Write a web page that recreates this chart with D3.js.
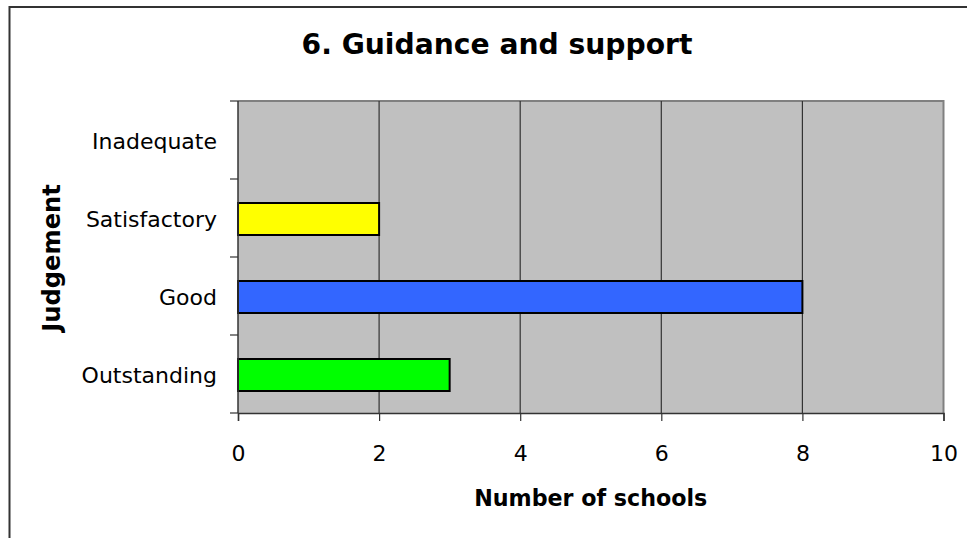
<!DOCTYPE html>
<html><head><meta charset="utf-8">
<script src="https://cdn.jsdelivr.net/npm/d3@7"></script>
<style>body{margin:0;background:#fff}svg{display:block}</style>
</head><body>
<script>
const categories = ["Inadequate","Satisfactory","Good","Outstanding"];
const values = [0, 2, 8, 3];
const barColors = ["#FF0000","#FFFF00","#3366FF","#00FF00"];
const xTicks = [0,2,4,6,8,10];
const title = "6. Guidance and support";
const xTitle = "Number of schools";
const yTitle = "Judgement";

const W = 967, H = 538;
const m = {left: 238, right: 943.5, top: 101, bottom: 413};
const svg = d3.select("body").append("svg").attr("width", W).attr("height", H);
const font = "'DejaVu Sans', Verdana, sans-serif";

// outer frame
svg.append("rect").attr("x", 9.5).attr("y", 7).attr("width", W + 20).attr("height", H + 20)
  .attr("fill", "none").attr("stroke", "#333").attr("stroke-width", 2);

const x = d3.scaleLinear().domain([0, 10]).range([m.left, m.right]);
const yb = d3.scaleBand().domain(categories).range([m.top, m.bottom]);

// plot area
svg.append("rect").attr("x", m.left).attr("y", m.top).attr("width", m.right - m.left).attr("height", m.bottom - m.top)
  .attr("fill", "#C0C0C0");
svg.append("path").attr("d", `M${m.left},${m.top}H${m.right}V${m.bottom}`)
  .attr("fill", "none").attr("stroke", "#808080").attr("stroke-width", 2);

// gridlines
svg.append("g").selectAll("line").data(xTicks.filter(d => d > 0 && d < 10)).join("line")
  .attr("x1", d => x(d)).attr("x2", d => x(d)).attr("y1", m.top).attr("y2", m.bottom)
  .attr("stroke", "#333").attr("stroke-width", 1.2);

// bars
const bh = 32;
svg.append("g").selectAll("rect").data(categories).join("rect")
  .filter((d, i) => values[i] > 0)
  .attr("x", x(0))
  .attr("y", d => yb(d) + yb.bandwidth() / 2 - bh / 2 + 1)
  .attr("width", (d) => x(values[categories.indexOf(d)]) - x(0))
  .attr("height", bh)
  .attr("fill", d => barColors[categories.indexOf(d)])
  .attr("stroke", "#000").attr("stroke-width", 2);

// x axis
const xa = svg.append("g").attr("transform", `translate(0,${m.bottom})`)
  .call(d3.axisBottom(x).tickValues(xTicks).tickSize(8).tickPadding(24.5).tickFormat(d3.format("d")));
xa.select(".domain").attr("stroke", "#333").attr("stroke-width", 1.5);
xa.selectAll(".tick line").attr("stroke", "#333").attr("stroke-width", 1.2);
xa.selectAll("text").attr("font-family", font).attr("font-size", 22).attr("fill", "#000");

// y axis: ticks at band boundaries
const yBounds = categories.map(c => yb(c)).concat([m.bottom]);
svg.append("line").attr("x1", m.left).attr("x2", m.left).attr("y1", m.top).attr("y2", m.bottom)
  .attr("stroke", "#333").attr("stroke-width", 1.5);
svg.append("g").selectAll("line").data(yBounds).join("line")
  .attr("x1", m.left - 8).attr("x2", m.left).attr("y1", d => d).attr("y2", d => d)
  .attr("stroke", "#333").attr("stroke-width", 1.2);
svg.append("g").selectAll("text").data(categories).join("text")
  .attr("x", 217).attr("y", d => yb(d) + yb.bandwidth() / 2 + 1)
  .attr("text-anchor", "end").attr("dominant-baseline", "central")
  .attr("font-family", font).attr("font-size", 22).attr("fill", "#000")
  .text(d => d);

// titles
svg.append("text").attr("x", 497).attr("y", 54).attr("text-anchor", "middle")
  .attr("font-family", font).attr("font-weight", "bold").attr("font-size", 28.2).text(title);
svg.append("text").attr("x", (m.left + m.right) / 2).attr("y", 506).attr("text-anchor", "middle")
  .attr("font-family", font).attr("font-weight", "bold").attr("font-size", 22.2).text(xTitle);
svg.append("text").attr("transform", `translate(60,258) rotate(-90)`).attr("text-anchor", "middle")
  .attr("font-family", font).attr("font-weight", "bold").attr("font-size", 24.2).text(yTitle);
</script>
</body></html>
